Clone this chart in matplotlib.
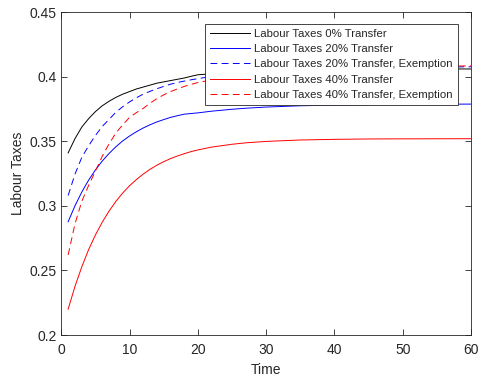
import matplotlib
matplotlib.use("Agg")
import matplotlib.pyplot as plt

plt.rcParams['font.family'] = ['Liberation Sans', 'DejaVu Sans']

time = [1, 2, 3, 4, 5, 6, 7, 8, 9, 10, 11, 12, 13, 14, 15, 16, 17, 18, 19, 20,
        22, 25, 27, 30, 35, 40, 45, 50, 60]
tax_0 = [0.341, 0.352, 0.361, 0.3675, 0.373, 0.3775, 0.381, 0.384, 0.3865, 0.3885,
         0.3905, 0.392, 0.3935, 0.395, 0.396, 0.397, 0.398, 0.399, 0.4003, 0.4015,
         0.4022, 0.403, 0.4037, 0.4045, 0.4051, 0.4055, 0.4058, 0.406, 0.406]
tax_20 = [0.2877, 0.300, 0.3107, 0.3199, 0.3278, 0.3347, 0.3406, 0.3458, 0.3503, 0.3541,
          0.3574, 0.3603, 0.3628, 0.365, 0.3668, 0.3685, 0.3698, 0.371, 0.3715, 0.372,
          0.3733, 0.3748, 0.3756, 0.3765, 0.3775, 0.378, 0.3784, 0.3786, 0.3788]
tax_20_ex = [0.308, 0.3245, 0.3375, 0.3465, 0.3545, 0.3615, 0.367, 0.3725, 0.3768, 0.3805,
             0.3837, 0.3865, 0.3887, 0.3907, 0.3925, 0.3942, 0.3955, 0.3966, 0.3976, 0.3985,
             0.4002, 0.402, 0.403, 0.4042, 0.4055, 0.4063, 0.4068, 0.4072, 0.4077]
tax_40 = [0.220, 0.2376, 0.2528, 0.2661, 0.2775, 0.2874, 0.296, 0.3035, 0.310, 0.3156,
          0.3204, 0.3246, 0.3283, 0.3315, 0.3342, 0.3366, 0.3386, 0.3404, 0.342, 0.3433,
          0.3455, 0.3477, 0.3488, 0.3499, 0.351, 0.3515, 0.3518, 0.3519, 0.352]
tax_40_ex = [0.262, 0.286, 0.3035, 0.3158, 0.327, 0.3385, 0.348, 0.3565, 0.3628, 0.3685,
             0.3722, 0.3755, 0.3795, 0.383, 0.386, 0.3885, 0.3905, 0.3925, 0.394, 0.3955,
             0.3975, 0.4005, 0.4017, 0.4035, 0.4053, 0.4065, 0.4073, 0.4078, 0.4084]

labels = ["Labour Taxes 0% Transfer",
          "Labour Taxes 20% Transfer",
          "Labour Taxes 20% Transfer, Exemption",
          "Labour Taxes 40% Transfer",
          "Labour Taxes 40% Transfer, Exemption"]

fig = plt.figure(figsize=(4.8, 3.79), dpi=100)
ax = fig.add_axes([0.1277, 0.116, 0.8535, 0.852])

lw = 0.7
ax.plot(time, tax_0, color='black', lw=lw, label=labels[0])
ax.plot(time, tax_20, color='blue', lw=lw, label=labels[1])
ax.plot(time, tax_20_ex, color='blue', lw=lw, ls=(0, (7, 4.5)), label=labels[2])
ax.plot(time, tax_40, color='red', lw=lw, label=labels[3])
ax.plot(time, tax_40_ex, color='red', lw=lw, ls=(0, (7, 4.5)), label=labels[4])

ax.set_xlim(0, 60)
ax.set_ylim(0.2, 0.45)
ax.set_xticks([0, 10, 20, 30, 40, 50, 60])
ax.set_yticks([0.2, 0.25, 0.3, 0.35, 0.4, 0.45])
ax.set_yticklabels(['0.2', '0.25', '0.3', '0.35', '0.4', '0.45'])
ax.tick_params(direction='in', top=True, right=True, length=4, width=0.6,
               color='#262626', labelcolor='#262626', labelsize=10)
ax.tick_params(axis='x', pad=6)
for s in ax.spines.values():
    s.set_color('#262626')
    s.set_linewidth(0.6)
ax.set_xlabel('Time', fontsize=10, color='#262626', labelpad=4)
ax.set_ylabel('Labour Taxes', fontsize=10, color='#262626', labelpad=3)

leg = ax.legend(loc='upper right', bbox_to_anchor=(0.968, 0.963), borderaxespad=0,
                fontsize=8.2, fancybox=False, framealpha=1, edgecolor='#262626',
                handlelength=3.5, handletextpad=0.35, labelspacing=0.45,
                borderpad=0.45)
leg.get_frame().set_linewidth(0.6)
for t in leg.get_texts():
    t.set_color('#262626')

fig.savefig('out.png', dpi=100)
